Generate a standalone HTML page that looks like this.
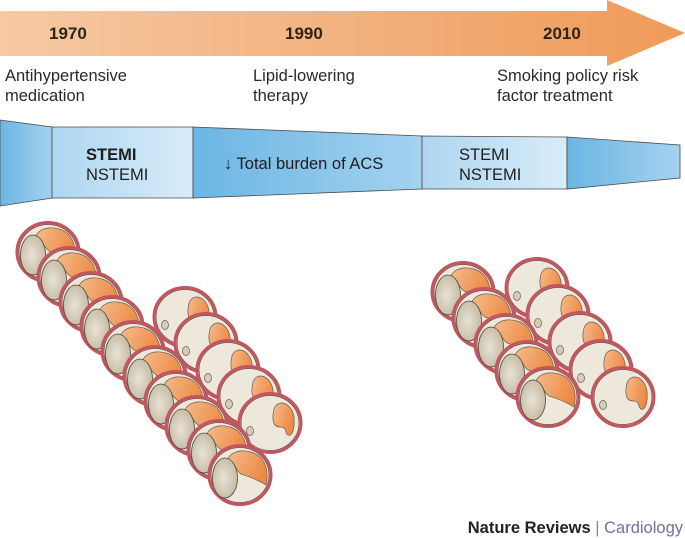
<!DOCTYPE html>
<html><head><meta charset="utf-8"><style>
html,body{margin:0;padding:0;background:#fff}
svg{display:block}
text{font-family:"Liberation Sans",sans-serif}
</style></head><body>
<svg width="685" height="538" viewBox="0 0 685 538" xmlns="http://www.w3.org/2000/svg">
<defs>
<linearGradient id="arr" x1="0" x2="1"><stop offset="0" stop-color="#f6c9a4"/><stop offset="1" stop-color="#ef9a58"/></linearGradient>
<linearGradient id="dk" x1="0" x2="1"><stop offset="0" stop-color="#6ab6e3"/><stop offset="1" stop-color="#a5d2f0"/></linearGradient>
<linearGradient id="lt" x1="0" x2="1"><stop offset="0" stop-color="#aed6f1"/><stop offset="1" stop-color="#d8ecf9"/></linearGradient>
<linearGradient id="or" x1="0" x2="1" y1="0" y2="0.4"><stop offset="0" stop-color="#f6bb8c"/><stop offset="1" stop-color="#ec8a45"/></linearGradient>
<radialGradient id="gr" cx="0.45" cy="0.5" r="0.6"><stop offset="0" stop-color="#e9e3d6"/><stop offset="1" stop-color="#c2b79f"/></radialGradient>
<g id="A">
<ellipse rx="31" ry="29.5" fill="#eee7dc" stroke="#c4555f" stroke-width="3"/>
<ellipse rx="29" ry="27.5" fill="none" stroke="#6b3a3a" stroke-width="0.7"/>
<path d="M-12 -16 C-8 -26 10 -27 20 -18 C28 -10 28 2 26 10 C15 3 7 1 1 -1 C-4 -5 -6 -11 -12 -16 Z" fill="url(#or)" stroke="#6a5a50" stroke-width="0.7"/>
<ellipse cx="-15" cy="3" rx="12.5" ry="20" fill="url(#gr)" stroke="#4a4a40" stroke-width="0.8"/>
</g>
<g id="B">
<ellipse rx="31" ry="29.5" fill="#eee7dc" stroke="#c4555f" stroke-width="3"/>
<ellipse rx="29" ry="27.5" fill="none" stroke="#6b3a3a" stroke-width="0.7"/>
<path d="M4 -14 C8 -25 22 -20 24 -6 C25 6 22 14 18 12 C14 10 18 4 10 4 C2 4 2 -6 4 -14 Z" fill="url(#or)" stroke="#6a5a50" stroke-width="0.7"/>
<ellipse cx="-20" cy="8" rx="3.5" ry="4.5" fill="#d6cdb9" stroke="#5a5a50" stroke-width="0.7"/>
</g>
</defs>
<path d="M0 11 H607 V0 L685 33 L607 66 V56 H0 Z" fill="url(#arr)"/>
<g font-weight="bold" font-size="17" fill="#2e2418">
<text x="49" y="39">1970</text><text x="285" y="39">1990</text><text x="543" y="39">2010</text>
</g>
<g font-size="16.5" fill="#2a2a2a">
<text x="5" y="81">Antihypertensive</text><text x="5" y="101">medication</text>
<text x="253" y="81">Lipid-lowering</text><text x="253" y="101">therapy</text>
<text x="497" y="81">Smoking policy risk</text><text x="497" y="101">factor treatment</text>
</g>
<g stroke="#4a4a4a" stroke-width="0.8">
<polygon points="0,120 52,127 52,198 0,206" fill="url(#dk)"/>
<polygon points="52,127 193,127 193,198 52,198" fill="url(#lt)"/>
<polygon points="193,127 422,136 422,189 193,198" fill="url(#dk)"/>
<polygon points="422,136 567,137 567,189 422,189" fill="url(#lt)"/>
<polygon points="567,137 680,145 680,178 567,189" fill="url(#dk)"/>
</g>
<g font-size="16.5" fill="#1e1e1e">
<text x="86" y="160" font-weight="bold">STEMI</text><text x="86" y="180">NSTEMI</text>
<text x="224" y="169">↓ Total burden of ACS</text>
<text x="459" y="160">STEMI</text><text x="459" y="180">NSTEMI</text>
</g>
<use href="#B" x="185" y="317"/><use href="#B" x="206" y="343"/><use href="#B" x="228" y="370"/><use href="#B" x="249" y="396"/><use href="#B" x="270" y="423"/>
<use href="#A" x="48" y="252"/><use href="#A" x="69" y="277"/><use href="#A" x="91" y="302"/><use href="#A" x="112" y="326"/><use href="#A" x="133" y="351"/><use href="#A" x="155" y="376"/><use href="#A" x="176" y="401"/><use href="#A" x="197" y="426"/><use href="#A" x="219" y="450"/><use href="#A" x="240" y="475"/>
<use href="#B" x="537" y="288"/><use href="#B" x="558" y="315"/><use href="#B" x="580" y="342"/><use href="#B" x="601" y="370"/><use href="#B" x="623" y="397"/>
<use href="#A" x="463" y="292"/><use href="#A" x="484" y="318"/><use href="#A" x="506" y="344"/><use href="#A" x="527" y="371"/><use href="#A" x="548" y="397"/>
<text x="683" y="533" text-anchor="end" font-size="16.5"><tspan font-weight="bold" fill="#222">Nature Reviews</tspan><tspan fill="#888"> | </tspan><tspan fill="#7a6b9c">Cardiology</tspan></text>
</svg>
</body></html>
